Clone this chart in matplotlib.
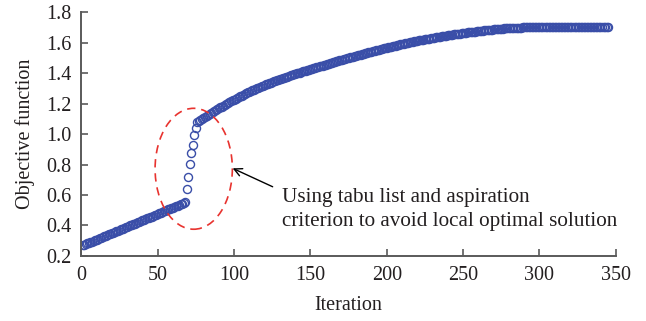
import numpy as np
import matplotlib
matplotlib.use("Agg")
import matplotlib.pyplot as plt
from matplotlib.patches import Ellipse

plt.rcParams['font.family'] = ['Liberation Serif', 'DejaVu Serif']

# values, one per iteration (1..345)
low_part = [
  0.270, 0.274, 0.278, 0.283, 0.287, 0.291, 0.295, 0.299, 0.304, 0.308,
  0.312, 0.316, 0.320, 0.325, 0.329, 0.333, 0.337, 0.341, 0.346, 0.350,
  0.354, 0.358, 0.362, 0.367, 0.371, 0.375, 0.379, 0.383, 0.388, 0.392,
  0.396, 0.400, 0.404, 0.409, 0.413, 0.417, 0.421, 0.425, 0.430, 0.434,
  0.438, 0.442, 0.446, 0.451, 0.455, 0.459, 0.463, 0.467, 0.472, 0.476,
  0.480, 0.484, 0.488, 0.493, 0.497, 0.501, 0.505, 0.509, 0.514, 0.518,
  0.522, 0.526, 0.530, 0.535, 0.539, 0.543, 0.547, 0.551]

jump_part = [0.640, 0.716, 0.803, 0.877, 0.928, 0.993, 1.037, 1.077]

high_part = [
  1.085, 1.091, 1.098, 1.104,
  1.110, 1.117, 1.123, 1.130, 1.136, 1.142, 1.149, 1.155, 1.162, 1.168,
  1.174, 1.180, 1.185, 1.191, 1.197, 1.203, 1.209, 1.214, 1.220, 1.226,
  1.231, 1.236, 1.242, 1.247, 1.252, 1.257, 1.262, 1.268, 1.273, 1.278,
  1.282, 1.287, 1.291, 1.296, 1.300, 1.304, 1.309, 1.313, 1.318, 1.322,
  1.326, 1.330, 1.333, 1.337, 1.341, 1.345, 1.349, 1.352, 1.356, 1.360,
  1.363, 1.367, 1.370, 1.374, 1.377, 1.380, 1.384, 1.387, 1.391, 1.394,
  1.397, 1.400, 1.403, 1.406, 1.410, 1.413, 1.416, 1.419, 1.422, 1.425,
  1.428, 1.431, 1.434, 1.437, 1.440, 1.443, 1.446, 1.449, 1.452, 1.455,
  1.458, 1.461, 1.464, 1.467, 1.470, 1.473, 1.476, 1.479, 1.482, 1.485,
  1.488, 1.491, 1.493, 1.496, 1.499, 1.502, 1.505, 1.507, 1.510, 1.513,
  1.516, 1.518, 1.521, 1.524, 1.527, 1.529, 1.532, 1.535, 1.537, 1.540,
  1.543, 1.545, 1.548, 1.550, 1.553, 1.556, 1.558, 1.561, 1.563, 1.566,
  1.568, 1.571, 1.573, 1.576, 1.578, 1.580, 1.583, 1.585, 1.588, 1.590,
  1.592, 1.594, 1.597, 1.599, 1.601, 1.603, 1.605, 1.608, 1.610, 1.612,
  1.614, 1.616, 1.617, 1.619, 1.621, 1.623, 1.625, 1.626, 1.628, 1.630,
  1.632, 1.633, 1.635, 1.637, 1.639, 1.640, 1.642, 1.644, 1.645, 1.647,
  1.649, 1.650, 1.652, 1.653, 1.655, 1.656, 1.658, 1.659, 1.661, 1.662,
  1.663, 1.665, 1.666, 1.667, 1.669, 1.670, 1.671, 1.672, 1.674, 1.675,
  1.676, 1.677, 1.678, 1.679, 1.681, 1.682, 1.683, 1.684, 1.685, 1.686,
  1.687, 1.688, 1.688, 1.689, 1.690, 1.691, 1.692, 1.692, 1.693, 1.694,
  1.695, 1.695, 1.696, 1.696, 1.697, 1.697, 1.698, 1.698, 1.699, 1.699]

flat_part = [
  1.700, 1.700, 1.700, 1.700, 1.700, 1.700, 1.700, 1.700, 1.700, 1.700,
  1.700, 1.700, 1.700, 1.700, 1.700, 1.700, 1.700, 1.700, 1.700, 1.700,
  1.700, 1.700, 1.700, 1.700, 1.700, 1.700, 1.700, 1.700, 1.700, 1.700,
  1.700, 1.700, 1.700, 1.700, 1.700, 1.700, 1.700, 1.700, 1.700, 1.700,
  1.700, 1.700, 1.700, 1.700, 1.700, 1.700, 1.700, 1.700, 1.700, 1.700,
  1.700, 1.700, 1.700, 1.700, 1.700]

objective = low_part + jump_part + high_part + flat_part
iteration = list(range(1, len(objective) + 1))

x_ticks = [0, 50, 100, 150, 200, 250, 300, 350]
y_ticks = [0.2, 0.4, 0.6, 0.8, 1.0, 1.2, 1.4, 1.6, 1.8]
note = "Using tabu list and aspiration\ncriterion to avoid local optimal solution"

axis_grey = '#5a5a5a'
text_col = '#231f20'

fig = plt.figure(figsize=(6.46, 3.21), dpi=100)
ax = fig.add_axes([0.1259, 0.2025, 0.8273, 0.7601])

ax.plot(iteration, objective, 'o', markersize=5.8, markerfacecolor='none',
        markeredgecolor='#3a4ea8', markeredgewidth=1.0, linestyle='none', zorder=2)

# dashed ellipse round the jump
ell = Ellipse((73.6, 0.772), 50.6, 0.793, fill=False, edgecolor='#e8332f',
              linewidth=1.2, linestyle=(0, (5, 3.5)), zorder=3)
ax.add_patch(ell)

ax.annotate('', xy=(99.1, 0.775), xytext=(125.3, 0.654),
            arrowprops=dict(arrowstyle='->', color='black', lw=1.0,
                            mutation_scale=14, shrinkA=0, shrinkB=0))
ax.text(131.2, 0.505, note, fontsize=15.2, color=text_col, ha='left',
        va='center', linespacing=1.3)

ax.set_xlim(0, 350)
ax.set_ylim(0.2, 1.8)
ax.set_xticks(x_ticks)
ax.set_yticks(y_ticks)
ax.set_yticklabels(['%.1f' % v for v in y_ticks])

for s in ['top', 'right']:
  ax.spines[s].set_visible(False)
for s in ['left', 'bottom']:
  ax.spines[s].set_color(axis_grey)
  ax.spines[s].set_linewidth(1.4)

ax.tick_params(direction='in', length=5, width=1.2, color=axis_grey,
               labelsize=14.5, labelcolor=text_col, pad=7)

ax.set_xlabel("Iteration", fontsize=14.5, color=text_col, labelpad=8)
ax.set_ylabel("Objective function", fontsize=14.5, color=text_col, labelpad=8)

fig.savefig('out.png', dpi=100)
